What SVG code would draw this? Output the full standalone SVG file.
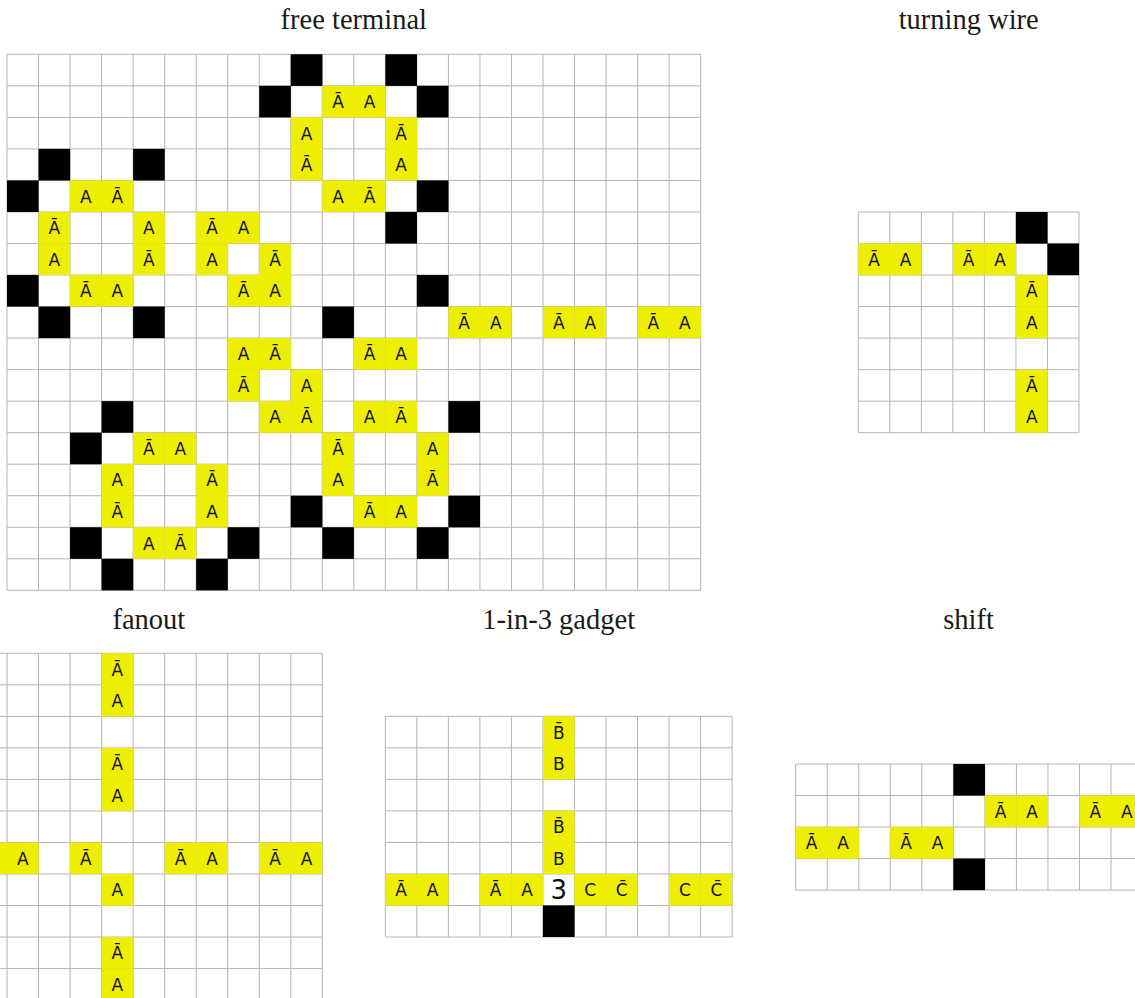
<svg xmlns="http://www.w3.org/2000/svg" xmlns:xlink="http://www.w3.org/1999/xlink" width="1135" height="998" viewBox="0 0 1135 998">
<style>
.bg{fill:#ffffff}
.grid{fill:none;stroke:#b4b4b4;stroke-width:1}
.y{fill:#eeee00}
.k{fill:#000000}
.t{font-family:"DejaVu Sans","Noto Sans",sans-serif;font-size:17px;text-anchor:middle;fill:#111111}
.big{font-family:"DejaVu Sans","Noto Sans",sans-serif;font-size:26px;text-anchor:middle;fill:#111111}
.title{font-family:"Liberation Serif","DejaVu Serif",serif;font-size:28.5px;text-anchor:middle;fill:#1a1a1a}
</style>
<defs>
<rect id="Y" class="y" width="31.6" height="31.6"/>
<rect id="K" class="k" width="31.6" height="31.6"/>
</defs>
<rect class="bg" x="0" y="0" width="1135" height="998"/>

<g id="titles">
<text class="title" x="353.8" y="29">free terminal</text>
<text class="title" x="968.7" y="29">turning wire</text>
<text class="title" x="148.9" y="629">fanout</text>
<text class="title" x="558.7" y="629">1-in-3 gadget</text>
<text class="title" x="968.5" y="629">shift</text>
</g>

<g id="free-terminal" transform="translate(7 54.3)">
<path class="grid" d="M0 0v536.01m31.53-536.01v536.01m31.53-536.01v536.01m31.53-536.01v536.01m31.53-536.01v536.01m31.53-536.01v536.01m31.53-536.01v536.01m31.53-536.01v536.01m31.53-536.01v536.01m31.53-536.01v536.01m31.53-536.01v536.01m31.53-536.01v536.01m31.53-536.01v536.01m31.53-536.01v536.01m31.53-536.01v536.01m31.53-536.01v536.01m31.53-536.01v536.01m31.53-536.01v536.01m31.53-536.01v536.01m31.53-536.01v536.01m31.53-536.01v536.01m31.53-536.01v536.01m31.53-536.01v536.01M0 0h693.66m-693.66 31.53h693.66m-693.66 31.53h693.66m-693.66 31.53h693.66m-693.66 31.53h693.66m-693.66 31.53h693.66m-693.66 31.53h693.66m-693.66 31.53h693.66m-693.66 31.53h693.66m-693.66 31.53h693.66m-693.66 31.53h693.66m-693.66 31.53h693.66m-693.66 31.53h693.66m-693.66 31.53h693.66m-693.66 31.53h693.66m-693.66 31.53h693.66m-693.66 31.53h693.66m-693.66 31.53h693.66"/>
<use href="#K" x="283.77" y="0"/>
<use href="#K" x="378.36" y="0"/>
<use href="#K" x="252.24" y="31.53"/>
<use href="#K" x="409.89" y="31.53"/>
<use href="#K" x="31.53" y="94.59"/>
<use href="#K" x="126.12" y="94.59"/>
<use href="#K" x="0" y="126.12"/>
<use href="#K" x="409.89" y="126.12"/>
<use href="#K" x="378.36" y="157.65"/>
<use href="#K" x="0" y="220.71"/>
<use href="#K" x="409.89" y="220.71"/>
<use href="#K" x="31.53" y="252.24"/>
<use href="#K" x="126.12" y="252.24"/>
<use href="#K" x="315.3" y="252.24"/>
<use href="#K" x="94.59" y="346.83"/>
<use href="#K" x="441.42" y="346.83"/>
<use href="#K" x="63.06" y="378.36"/>
<use href="#K" x="283.77" y="441.42"/>
<use href="#K" x="441.42" y="441.42"/>
<use href="#K" x="63.06" y="472.95"/>
<use href="#K" x="220.71" y="472.95"/>
<use href="#K" x="315.3" y="472.95"/>
<use href="#K" x="409.89" y="472.95"/>
<use href="#K" x="94.59" y="504.48"/>
<use href="#K" x="189.18" y="504.48"/>
<use href="#Y" x="315.3" y="31.53"/><text class="t" x="331.07" y="53.8">Ā</text>
<use href="#Y" x="346.83" y="31.53"/><text class="t" x="362.6" y="53.8">A</text>
<use href="#Y" x="283.77" y="63.06"/><text class="t" x="299.54" y="85.33">A</text>
<use href="#Y" x="378.36" y="63.06"/><text class="t" x="394.13" y="85.33">Ā</text>
<use href="#Y" x="283.77" y="94.59"/><text class="t" x="299.54" y="116.86">Ā</text>
<use href="#Y" x="378.36" y="94.59"/><text class="t" x="394.13" y="116.86">A</text>
<use href="#Y" x="63.06" y="126.12"/><text class="t" x="78.83" y="148.39">A</text>
<use href="#Y" x="94.59" y="126.12"/><text class="t" x="110.36" y="148.39">Ā</text>
<use href="#Y" x="315.3" y="126.12"/><text class="t" x="331.07" y="148.39">A</text>
<use href="#Y" x="346.83" y="126.12"/><text class="t" x="362.6" y="148.39">Ā</text>
<use href="#Y" x="31.53" y="157.65"/><text class="t" x="47.3" y="179.92">Ā</text>
<use href="#Y" x="126.12" y="157.65"/><text class="t" x="141.89" y="179.92">A</text>
<use href="#Y" x="189.18" y="157.65"/><text class="t" x="204.95" y="179.92">Ā</text>
<use href="#Y" x="220.71" y="157.65"/><text class="t" x="236.48" y="179.92">A</text>
<use href="#Y" x="31.53" y="189.18"/><text class="t" x="47.3" y="211.45">A</text>
<use href="#Y" x="126.12" y="189.18"/><text class="t" x="141.89" y="211.45">Ā</text>
<use href="#Y" x="189.18" y="189.18"/><text class="t" x="204.95" y="211.45">A</text>
<use href="#Y" x="252.24" y="189.18"/><text class="t" x="268.01" y="211.45">Ā</text>
<use href="#Y" x="63.06" y="220.71"/><text class="t" x="78.83" y="242.98">Ā</text>
<use href="#Y" x="94.59" y="220.71"/><text class="t" x="110.36" y="242.98">A</text>
<use href="#Y" x="220.71" y="220.71"/><text class="t" x="236.48" y="242.98">Ā</text>
<use href="#Y" x="252.24" y="220.71"/><text class="t" x="268.01" y="242.98">A</text>
<use href="#Y" x="441.42" y="252.24"/><text class="t" x="457.19" y="274.51">Ā</text>
<use href="#Y" x="472.95" y="252.24"/><text class="t" x="488.72" y="274.51">A</text>
<use href="#Y" x="536.01" y="252.24"/><text class="t" x="551.78" y="274.51">Ā</text>
<use href="#Y" x="567.54" y="252.24"/><text class="t" x="583.31" y="274.51">A</text>
<use href="#Y" x="630.6" y="252.24"/><text class="t" x="646.37" y="274.51">Ā</text>
<use href="#Y" x="662.06" y="252.24"/><text class="t" x="677.9" y="274.51">A</text>
<use href="#Y" x="220.71" y="283.77"/><text class="t" x="236.48" y="306.04">A</text>
<use href="#Y" x="252.24" y="283.77"/><text class="t" x="268.01" y="306.04">Ā</text>
<use href="#Y" x="346.83" y="283.77"/><text class="t" x="362.6" y="306.04">Ā</text>
<use href="#Y" x="378.36" y="283.77"/><text class="t" x="394.13" y="306.04">A</text>
<use href="#Y" x="220.71" y="315.3"/><text class="t" x="236.48" y="337.57">Ā</text>
<use href="#Y" x="283.77" y="315.3"/><text class="t" x="299.54" y="337.57">A</text>
<use href="#Y" x="252.24" y="346.83"/><text class="t" x="268.01" y="369.1">A</text>
<use href="#Y" x="283.77" y="346.83"/><text class="t" x="299.54" y="369.1">Ā</text>
<use href="#Y" x="346.83" y="346.83"/><text class="t" x="362.6" y="369.1">A</text>
<use href="#Y" x="378.36" y="346.83"/><text class="t" x="394.13" y="369.1">Ā</text>
<use href="#Y" x="126.12" y="378.36"/><text class="t" x="141.89" y="400.63">Ā</text>
<use href="#Y" x="157.65" y="378.36"/><text class="t" x="173.42" y="400.63">A</text>
<use href="#Y" x="315.3" y="378.36"/><text class="t" x="331.07" y="400.63">Ā</text>
<use href="#Y" x="409.89" y="378.36"/><text class="t" x="425.66" y="400.63">A</text>
<use href="#Y" x="94.59" y="409.89"/><text class="t" x="110.36" y="432.16">A</text>
<use href="#Y" x="189.18" y="409.89"/><text class="t" x="204.95" y="432.16">Ā</text>
<use href="#Y" x="315.3" y="409.89"/><text class="t" x="331.07" y="432.16">A</text>
<use href="#Y" x="409.89" y="409.89"/><text class="t" x="425.66" y="432.16">Ā</text>
<use href="#Y" x="94.59" y="441.42"/><text class="t" x="110.36" y="463.69">Ā</text>
<use href="#Y" x="189.18" y="441.42"/><text class="t" x="204.95" y="463.69">A</text>
<use href="#Y" x="346.83" y="441.42"/><text class="t" x="362.6" y="463.69">Ā</text>
<use href="#Y" x="378.36" y="441.42"/><text class="t" x="394.13" y="463.69">A</text>
<use href="#Y" x="126.12" y="472.95"/><text class="t" x="141.89" y="495.22">A</text>
<use href="#Y" x="157.65" y="472.95"/><text class="t" x="173.42" y="495.22">Ā</text>
</g>

<g id="turning-wire" transform="translate(858.3 212)">
<path class="grid" d="M0 0v220.71m31.53-220.71v220.71m31.53-220.71v220.71m31.53-220.71v220.71m31.53-220.71v220.71m31.53-220.71v220.71m31.53-220.71v220.71m31.53-220.71v220.71M0 0h220.71m-220.71 31.53h220.71m-220.71 31.53h220.71m-220.71 31.53h220.71m-220.71 31.53h220.71m-220.71 31.53h220.71m-220.71 31.53h220.71m-220.71 31.53h220.71"/>
<use href="#K" x="157.65" y="0"/>
<use href="#K" x="189.11" y="31.53"/>
<use href="#Y" x="0" y="31.53"/><text class="t" x="15.77" y="53.8">Ā</text>
<use href="#Y" x="31.53" y="31.53"/><text class="t" x="47.3" y="53.8">A</text>
<use href="#Y" x="94.59" y="31.53"/><text class="t" x="110.36" y="53.8">Ā</text>
<use href="#Y" x="126.12" y="31.53"/><text class="t" x="141.89" y="53.8">A</text>
<use href="#Y" x="157.65" y="63.06"/><text class="t" x="173.42" y="85.33">Ā</text>
<use href="#Y" x="157.65" y="94.59"/><text class="t" x="173.42" y="116.86">A</text>
<use href="#Y" x="157.65" y="157.65"/><text class="t" x="173.42" y="179.92">Ā</text>
<use href="#Y" x="157.65" y="189.11"/><text class="t" x="173.42" y="211.45">A</text>
</g>

<g id="fanout" transform="translate(-24.5 653.3)">
<path class="grid" d="M0 0v378.36m31.53-378.36v378.36m31.53-378.36v378.36m31.53-378.36v378.36m31.53-378.36v378.36m31.53-378.36v378.36m31.53-378.36v378.36m31.53-378.36v378.36m31.53-378.36v378.36m31.53-378.36v378.36m31.53-378.36v378.36m31.53-378.36v378.36M0 0h346.83m-346.83 31.53h346.83m-346.83 31.53h346.83m-346.83 31.53h346.83m-346.83 31.53h346.83m-346.83 31.53h346.83m-346.83 31.53h346.83m-346.83 31.53h346.83m-346.83 31.53h346.83m-346.83 31.53h346.83m-346.83 31.53h346.83m-346.83 31.53h346.83m-346.83 31.53h346.83"/>
<use href="#Y" x="126.12" y="0"/><text class="t" x="141.89" y="22.27">Ā</text>
<use href="#Y" x="126.12" y="31.53"/><text class="t" x="141.89" y="53.8">A</text>
<use href="#Y" x="126.12" y="94.59"/><text class="t" x="141.89" y="116.86">Ā</text>
<use href="#Y" x="126.12" y="126.12"/><text class="t" x="141.89" y="148.39">A</text>
<use href="#Y" x="126.12" y="220.71"/><text class="t" x="141.89" y="242.98">A</text>
<use href="#Y" x="126.12" y="283.77"/><text class="t" x="141.89" y="306.04">Ā</text>
<use href="#Y" x="126.12" y="315.3"/><text class="t" x="141.89" y="337.57">A</text>
<use href="#Y" x="0" y="189.18"/>
<use href="#Y" x="31.53" y="189.18"/><text class="t" x="47.3" y="211.45">A</text>
<use href="#Y" x="94.59" y="189.18"/><text class="t" x="110.36" y="211.45">Ā</text>
<use href="#Y" x="189.18" y="189.18"/><text class="t" x="204.95" y="211.45">Ā</text>
<use href="#Y" x="220.71" y="189.18"/><text class="t" x="236.48" y="211.45">A</text>
<use href="#Y" x="283.77" y="189.18"/><text class="t" x="299.54" y="211.45">Ā</text>
<use href="#Y" x="315.23" y="189.18"/><text class="t" x="331.07" y="211.45">A</text>
</g>

<g id="one-in-three-gadget" transform="translate(385.3 716.3)">
<path class="grid" d="M0 0v220.71m31.53-220.71v220.71m31.53-220.71v220.71m31.53-220.71v220.71m31.53-220.71v220.71m31.53-220.71v220.71m31.53-220.71v220.71m31.53-220.71v220.71m31.53-220.71v220.71m31.53-220.71v220.71m31.53-220.71v220.71m31.53-220.71v220.71M0 0h346.83m-346.83 31.53h346.83m-346.83 31.53h346.83m-346.83 31.53h346.83m-346.83 31.53h346.83m-346.83 31.53h346.83m-346.83 31.53h346.83m-346.83 31.53h346.83"/>
<use href="#Y" x="157.65" y="0"/><text class="t" x="173.42" y="22.27">B̄</text>
<use href="#Y" x="157.65" y="31.53"/><text class="t" x="173.42" y="53.8">B</text>
<use href="#Y" x="157.65" y="94.59"/><text class="t" x="173.42" y="116.86">B̄</text>
<use href="#Y" x="157.65" y="126.12"/><text class="t" x="173.42" y="148.39">B</text>
<use href="#Y" x="0" y="157.65"/><text class="t" x="15.77" y="179.92">Ā</text>
<use href="#Y" x="31.53" y="157.65"/><text class="t" x="47.3" y="179.92">A</text>
<use href="#Y" x="94.59" y="157.65"/><text class="t" x="110.36" y="179.92">Ā</text>
<use href="#Y" x="126.12" y="157.65"/><text class="t" x="141.89" y="179.92">A</text>
<text class="big" x="173.42" y="182.9">3</text>
<use href="#Y" x="189.18" y="157.65"/><text class="t" x="204.95" y="179.92">C</text>
<use href="#Y" x="220.71" y="157.65"/><text class="t" x="236.48" y="179.92">C̄</text>
<use href="#Y" x="283.77" y="157.65"/><text class="t" x="299.54" y="179.92">C</text>
<use href="#Y" x="315.23" y="157.65"/><text class="t" x="331.07" y="179.92">C̄</text>
<use href="#K" x="157.65" y="189.11"/>
</g>

<g id="shift" transform="translate(795.7 764)">
<path class="grid" d="M0 0v126.12m31.53-126.12v126.12m31.53-126.12v126.12m31.53-126.12v126.12m31.53-126.12v126.12m31.53-126.12v126.12m31.53-126.12v126.12m31.53-126.12v126.12m31.53-126.12v126.12m31.53-126.12v126.12m31.53-126.12v126.12m31.53-126.12v126.12M0 0h346.83m-346.83 31.53h346.83m-346.83 31.53h346.83m-346.83 31.53h346.83m-346.83 31.53h346.83"/>
<use href="#K" x="157.65" y="0"/>
<use href="#K" x="157.65" y="94.52"/>
<use href="#Y" x="189.18" y="31.53"/><text class="t" x="204.95" y="53.8">Ā</text>
<use href="#Y" x="220.71" y="31.53"/><text class="t" x="236.48" y="53.8">A</text>
<use href="#Y" x="283.77" y="31.53"/><text class="t" x="299.54" y="53.8">Ā</text>
<use href="#Y" x="315.3" y="31.53"/><text class="t" x="331.07" y="53.8">A</text>
<use href="#Y" x="0" y="63.06"/><text class="t" x="15.77" y="85.33">Ā</text>
<use href="#Y" x="31.53" y="63.06"/><text class="t" x="47.3" y="85.33">A</text>
<use href="#Y" x="94.59" y="63.06"/><text class="t" x="110.36" y="85.33">Ā</text>
<use href="#Y" x="126.12" y="63.06"/><text class="t" x="141.89" y="85.33">A</text>
</g>
</svg>
